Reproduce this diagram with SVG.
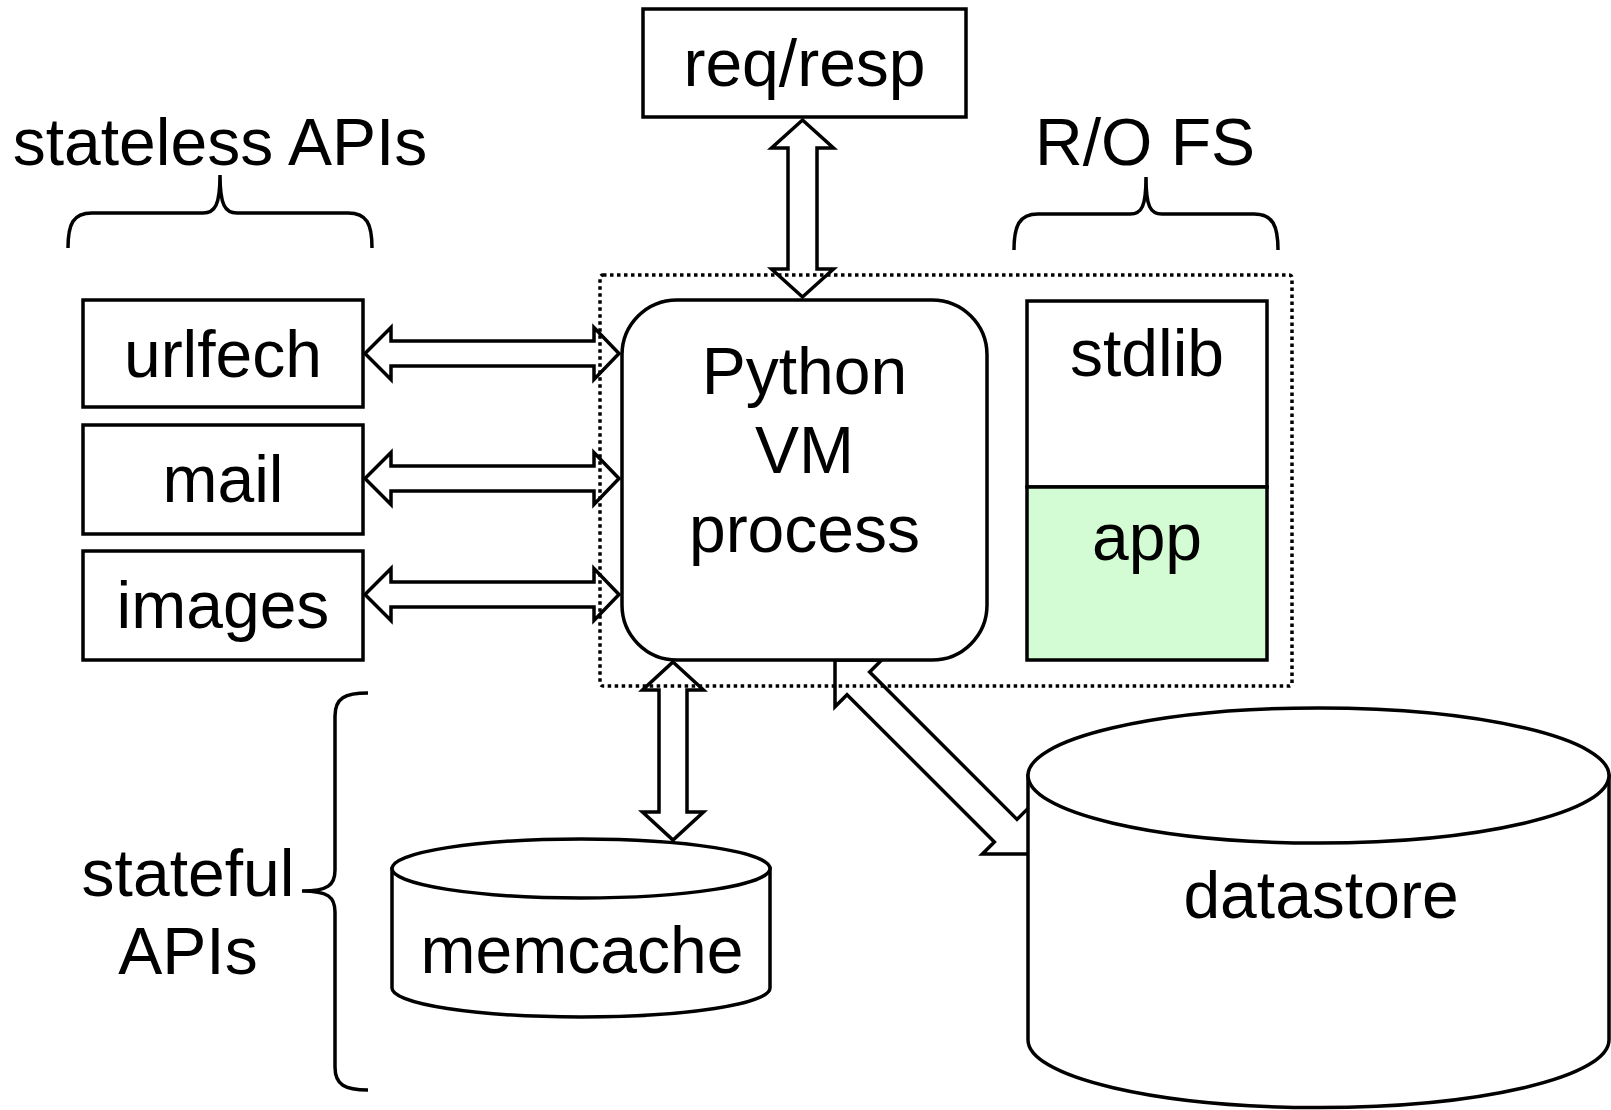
<svg xmlns="http://www.w3.org/2000/svg" width="1611" height="1110" viewBox="0 0 1611 1110">
<style>
  .box { fill: #ffffff; stroke: #000000; stroke-width: 3.5; }
  .arrow { fill: #ffffff; stroke: #000000; stroke-width: 3.5; stroke-linejoin: miter; }
  .brace { fill: none; stroke: #000000; stroke-width: 3.5; stroke-linecap: butt; }
  .dotted { fill: none; stroke: #000000; stroke-width: 3.5; stroke-dasharray: 3.5 3.5; }
  .lbl { font-family: "Liberation Sans", Arial, sans-serif; font-size: 66px; fill: #000000; text-anchor: middle; }
</style>
<rect x="0" y="0" width="1611" height="1110" fill="#ffffff"/>

<g id="connectors">
  <!-- req/resp <-> VM -->
  <polygon class="arrow" points="802.5,120 833.5,148 817,148 817,269 833.5,269 802.5,297 771.5,269 788,269 788,148 771.5,148"/>
  <!-- urlfech <-> VM -->
  <polygon class="arrow" points="365,353.5 391,327.5 391,341 594,341 594,327.5 619,353.5 594,379.5 594,366 391,366 391,379.5"/>
  <!-- mail <-> VM -->
  <polygon class="arrow" points="365,478.5 391,452.5 391,466 594,466 594,452.5 619,478.5 594,504.5 594,491 391,491 391,504.5"/>
  <!-- images <-> VM -->
  <polygon class="arrow" points="365,594.5 391,568.5 391,582 594,582 594,568.5 619,594.5 594,620.5 594,607 391,607 391,620.5"/>
  <!-- VM <-> memcache -->
  <polygon class="arrow" points="673,662 703.5,690 687,690 687,812 703.5,812 673,840 642.5,812 659,812 659,690 642.5,690"/>
  <!-- VM <-> datastore (diagonal) -->
  <polygon class="arrow" transform="translate(835,660) rotate(45)" points="0,0 33,-33 33,-16 241.4,-16 241.4,-33 274.4,0 241.4,33 241.4,16 33,16 33,33"/>
</g>

<g id="sandbox">
  <rect class="dotted" x="600" y="275" width="692" height="411" rx="3"/>
</g>

<g id="stateless-brace">
  <path class="brace" d="M68,248 C68,224 73,213 92,213 L203,213 C215,213 220,205 220,175 C220,205 225,213 237,213 L348,213 C367,213 372,224 372,248"/>
  <text class="lbl" x="220" y="165">stateless APIs</text>
</g>

<g id="rofs-brace">
  <path class="brace" d="M1014,250 C1014,226 1019,214 1038,214 L1130,214 C1142,214 1146,206 1146,177 C1146,206 1150,214 1162,214 L1254,214 C1273,214 1278,226 1278,250"/>
  <text class="lbl" x="1145" y="165">R/O FS</text>
</g>

<g id="stateful-brace">
  <path class="brace" d="M368,693 C345,693 335,698 335,716 L335,870 C335,885 328,891 302,891 C328,891 335,897 335,912 L335,1067 C335,1085 345,1090 368,1090"/>
  <text class="lbl" x="188" y="896">stateful</text>
  <text class="lbl" x="188" y="974">APIs</text>
</g>

<g id="reqresp">
  <rect class="box" x="643" y="9" width="323" height="108"/>
  <text class="lbl" x="804.5" y="86">req/resp</text>
</g>

<g id="urlfech">
  <rect class="box" x="83" y="300" width="280" height="107"/>
  <text class="lbl" x="223" y="377">urlfech</text>
</g>

<g id="mail">
  <rect class="box" x="83" y="425" width="280" height="109"/>
  <text class="lbl" x="223" y="502">mail</text>
</g>

<g id="images">
  <rect class="box" x="83" y="551" width="280" height="109"/>
  <text class="lbl" x="223" y="628">images</text>
</g>

<g id="python-vm">
  <rect class="box" x="622" y="300" width="365" height="360" rx="55" ry="55"/>
  <text class="lbl" x="804.5" y="394">Python</text>
  <text class="lbl" x="804.5" y="473">VM</text>
  <text class="lbl" x="804.5" y="552">process</text>
</g>

<g id="stdlib">
  <rect class="box" x="1027" y="301" width="240" height="186"/>
  <text class="lbl" x="1147" y="376">stdlib</text>
</g>

<g id="app">
  <rect class="box" x="1027" y="487" width="240" height="173" style="fill:#d4fcd4"/>
  <text class="lbl" x="1147" y="560">app</text>
</g>

<g id="memcache">
  <path class="box" d="M392,868.5 L392,988 A189,29 0 0 0 770,988 L770,868.5 Z"/>
  <ellipse class="box" cx="581" cy="868.5" rx="189" ry="29.5"/>
  <text class="lbl" x="582" y="973">memcache</text>
</g>

<g id="datastore">
  <path class="box" d="M1028,775.5 L1028,1040 A290.5,67.5 0 0 0 1609,1040 L1609,775.5 Z"/>
  <ellipse class="box" cx="1318.5" cy="775.5" rx="290.5" ry="67.5"/>
  <text class="lbl" x="1321" y="918">datastore</text>
</g>
</svg>
